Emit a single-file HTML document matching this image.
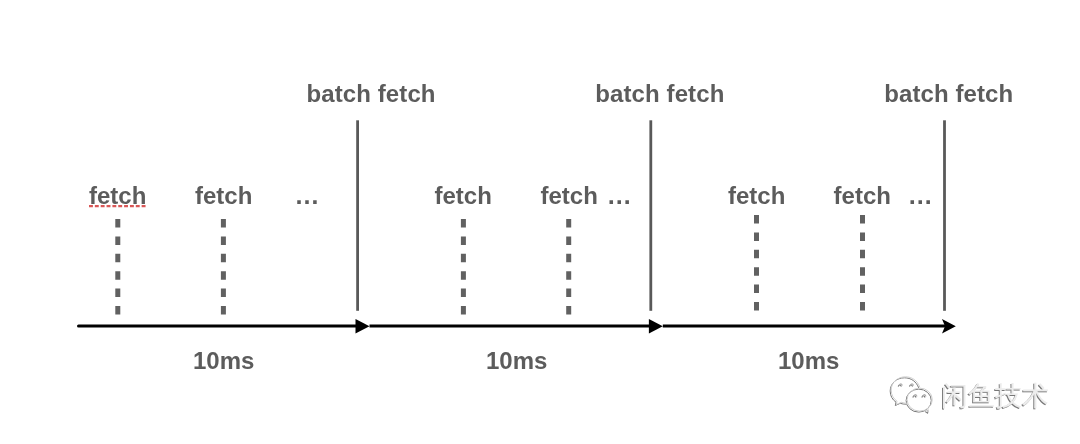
<!DOCTYPE html>
<html><head><meta charset="utf-8">
<style>
html,body{margin:0;padding:0;background:#fff;width:1080px;height:444px;overflow:hidden}
svg{position:absolute;left:0;top:0}
.t{font-family:"Liberation Sans",sans-serif;font-weight:bold;font-size:24px;fill:#5c5c5c}
.wm{font-family:"Liberation Sans",sans-serif;font-size:26.7px;font-weight:300;fill:#ececec}
</style></head><body>
<svg style="will-change:transform" width="1080" height="444" viewBox="0 0 1080 444">
<defs>
<filter id="emb" x="-10%" y="-10%" width="120%" height="120%">
<feOffset in="SourceAlpha" dx="-1" dy="1" result="o"/>
<feFlood flood-color="#777"/><feComposite in2="o" operator="in" result="sh"/>
<feMerge><feMergeNode in="sh"/><feMergeNode in="SourceGraphic"/></feMerge>
</filter>
</defs>
<!-- batch fetch labels -->
<text class="t" x="306.5" y="101.5" letter-spacing="0.1">batch fetch</text>
<text class="t" x="595.3" y="101.5" letter-spacing="0.1">batch fetch</text>
<text class="t" x="884.2" y="101.5" letter-spacing="0.1">batch fetch</text>
<!-- fetch labels -->
<text class="t" x="89" y="203.5">fetch</text>
<text class="t" x="195" y="203.5">fetch</text>
<text class="t" x="434.5" y="203.5">fetch</text>
<text class="t" x="540.5" y="203.5">fetch</text>
<text class="t" x="728" y="203.5">fetch</text>
<text class="t" x="833.6" y="203.5">fetch</text>
<text class="t" x="294.6" y="203.8" style="font-size:25px">…</text>
<text class="t" x="606.7" y="203.8" style="font-size:25px">…</text>
<text class="t" x="907.8" y="203.8" style="font-size:25px">…</text>
<!-- 10ms -->
<text class="t" x="193" y="369">10ms</text>
<text class="t" x="486" y="369">10ms</text>
<text class="t" x="778" y="369">10ms</text>
<!-- red underline -->
<line x1="89" y1="206.05" x2="145.6" y2="206.05" stroke="#d95757" stroke-width="2.2" stroke-dasharray="3.9 1.95"/>
<!-- vertical batch lines -->
<g stroke="#595959" stroke-width="2.8">
<line x1="357.6" y1="120.3" x2="357.6" y2="310.8"/>
<line x1="650.8" y1="120.3" x2="650.8" y2="310.8"/>
<line x1="944.5" y1="120.3" x2="944.5" y2="310.8"/>
</g>
<!-- dashed fetch lines -->
<g stroke="#616161" stroke-width="5" stroke-dasharray="8.5 8.9">
<line x1="117.8" y1="219" x2="117.8" y2="315"/>
<line x1="223.4" y1="219" x2="223.4" y2="315"/>
<line x1="463.4" y1="219" x2="463.4" y2="315"/>
<line x1="568.7" y1="219" x2="568.7" y2="315"/>
<line x1="756.5" y1="215" x2="756.5" y2="311"/>
<line x1="862.5" y1="215" x2="862.5" y2="311"/>
</g>
<!-- arrows -->
<g stroke="#000" stroke-width="3">
<line x1="78.5" y1="326.1" x2="357" y2="326.1" stroke-linecap="round"/>
<line x1="369.5" y1="326.1" x2="650" y2="326.1"/>
<line x1="662.8" y1="326.1" x2="945" y2="326.1"/>
</g>
<path d="M355.5 319 L369.5 326.2 L355.5 333.4 Z" fill="#000"/>
<path d="M648.9 319 L662.8 326.2 L648.9 333.4 Z" fill="#000"/>
<path d="M942 319 L955.8 326.2 L942 333.4 L945 326.2 Z" fill="#000"/>
<!-- watermark -->
<g fill="none" stroke="#cfcfcf" stroke-width="1" filter="url(#emb)">
<path d="M919.8 387.2 C917.5 380.5 912 376.8 905.5 376.8 C897.5 376.8 891.2 382.5 891.2 390 C891.2 394.8 893.3 398.6 897 401.2 L896.3 404.5 L901.2 402.3 C903 402.9 905 403.2 907.2 403.2"/>
<ellipse cx="919.7" cy="399.6" rx="12.6" ry="11.5"/>
<path d="M925.8 410.4 L928.6 412.4 L928.2 409.3"/>
<path stroke="#b0b0b0" stroke-width="1.2" d="M899.2 385.6 Q900.8 382.2 902.4 385.6 M910.4 385.6 Q912 382.2 913.6 385.6 M913.8 396.4 Q915.4 393 917 396.4 M922.8 396.4 Q924.4 393 926 396.4"/>
</g>
<text class="wm" x="941" y="404.6" filter="url(#emb)">闲鱼技术</text>
</svg>
</body></html>
